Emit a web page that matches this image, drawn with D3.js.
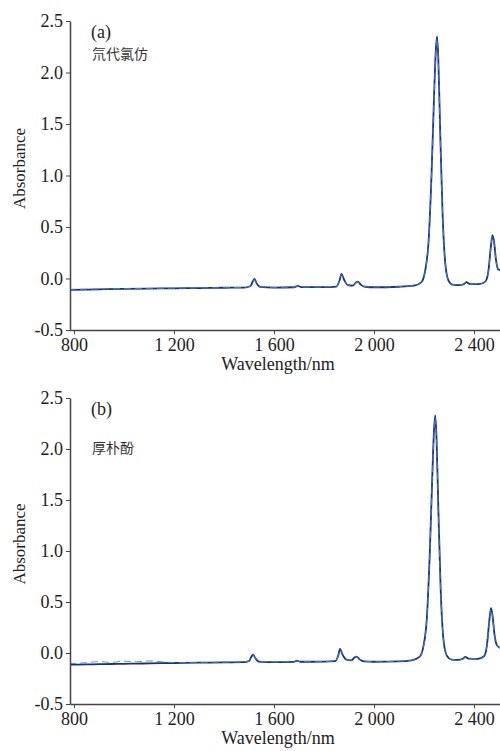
<!DOCTYPE html>
<html>
<head>
<meta charset="utf-8">
<script src="https://cdn.jsdelivr.net/npm/d3@7"></script>
<style>
  body { margin: 0; background: #fff; }
</style>
</head>
<body>
<script>
// spectra (wavelength in nm, absorbance)
var wlA = [780, 850, 900, 1000, 1100, 1200, 1300, 1400, 1480, 1505, 1515, 1522, 1530, 1545, 1600, 1680, 1695, 1710, 1800, 1850, 1862, 1870, 1880, 1895, 1915, 1928, 1935, 1948, 1965, 2000, 2100, 2160, 2190, 2205, 2218, 2230, 2240, 2247, 2252, 2257, 2264, 2274, 2285, 2298, 2315, 2340, 2360, 2370, 2382, 2420, 2445, 2458, 2467, 2474, 2480, 2488, 2496, 2504];
var absA1 = [-0.11, -0.108, -0.105, -0.1, -0.098, -0.095, -0.093, -0.09, -0.088, -0.075, -0.03, -0.005, -0.045, -0.082, -0.088, -0.085, -0.072, -0.084, -0.084, -0.078, -0.02, 0.045, -0.01, -0.065, -0.07, -0.04, -0.03, -0.062, -0.08, -0.085, -0.08, -0.07, -0.035, 0.08, 0.35, 1.0, 1.75, 2.2, 2.35, 2.15, 1.5, 0.65, 0.15, -0.02, -0.06, -0.065, -0.055, -0.035, -0.052, -0.055, -0.03, 0.08, 0.3, 0.42, 0.36, 0.18, 0.09, 0.08];
var absA2 = [-0.105, -0.104, -0.102, -0.098, -0.096, -0.094, -0.092, -0.089, -0.087, -0.074, -0.032, -0.008, -0.046, -0.08, -0.086, -0.084, -0.073, -0.083, -0.083, -0.077, -0.022, 0.04, -0.012, -0.064, -0.069, -0.042, -0.032, -0.06, -0.079, -0.083, -0.079, -0.069, -0.036, 0.075, 0.34, 0.98, 1.73, 2.18, 2.33, 2.13, 1.48, 0.64, 0.15, -0.02, -0.059, -0.064, -0.054, -0.036, -0.051, -0.054, -0.031, 0.075, 0.29, 0.41, 0.35, 0.17, 0.09, 0.08];

var wlB = [780, 850, 900, 950, 1000, 1050, 1100, 1200, 1300, 1400, 1480, 1500, 1510, 1517, 1525, 1540, 1600, 1680, 1692, 1705, 1800, 1845, 1857, 1864, 1874, 1890, 1910, 1922, 1930, 1943, 1960, 2000, 2100, 2150, 2182, 2198, 2211, 2223, 2233, 2240, 2245, 2250, 2257, 2267, 2278, 2292, 2310, 2335, 2355, 2365, 2378, 2415, 2440, 2452, 2461, 2468, 2474, 2482, 2491, 2504];
var absB1 = [-0.115, -0.112, -0.11, -0.108, -0.106, -0.104, -0.102, -0.098, -0.095, -0.092, -0.09, -0.078, -0.035, -0.015, -0.05, -0.085, -0.09, -0.087, -0.076, -0.086, -0.085, -0.08, -0.025, 0.04, -0.015, -0.066, -0.072, -0.045, -0.035, -0.064, -0.082, -0.086, -0.082, -0.072, -0.038, 0.07, 0.33, 0.97, 1.72, 2.18, 2.33, 2.12, 1.45, 0.6, 0.13, -0.03, -0.065, -0.068, -0.058, -0.038, -0.055, -0.058, -0.032, 0.08, 0.31, 0.44, 0.37, 0.18, 0.08, 0.05];
var absB2 = [-0.105, -0.095, -0.085, -0.092, -0.08, -0.086, -0.078, -0.094, -0.092, -0.09, -0.088, -0.076, -0.037, -0.018, -0.052, -0.084, -0.088, -0.086, -0.077, -0.085, -0.084, -0.079, -0.027, 0.035, -0.017, -0.065, -0.071, -0.047, -0.037, -0.063, -0.081, -0.085, -0.081, -0.071, -0.04, 0.065, 0.32, 0.95, 1.7, 2.16, 2.31, 2.1, 1.43, 0.59, 0.13, -0.03, -0.064, -0.067, -0.057, -0.039, -0.054, -0.057, -0.033, 0.075, 0.3, 0.43, 0.36, 0.17, 0.08, 0.05];

var xTicks = [800, 1200, 1600, 2000, 2400];
var yTicks = [-0.5, 0.0, 0.5, 1.0, 1.5, 2.0, 2.5];

var panels = [
  { tag: "(a)", name: "氘代氯仿", wl: wlA, s1: absA1, s2: absA2, top: 21, bottom: 330, nameY: 59 },
  { tag: "(b)", name: "厚朴酚", wl: wlB, s1: absB1, s2: absB2, top: 398, bottom: 704, nameY: 453 }
];

var serif = "'Liberation Serif', 'Times New Roman', 'DejaVu Serif', serif";
var cjk = "'Noto Sans CJK SC', sans-serif";

var svgWidth = 500;
var svgHeight = 751;
var left = 70, right = 500;

var svg = d3.select("body").append("svg")
  .attr("width", svgWidth)
  .attr("height", svgHeight);

var xScale = d3.scaleLinear().domain([784, 2504]).range([left, right]);

function fmtX(d) {
  return d >= 1000 ? String(d).replace(/(\d)(\d{3})$/, "$1 $2") : String(d);
}

panels.forEach(function (p, i) {
  var yScale = d3.scaleLinear().domain([-0.5, 2.5]).range([p.bottom, p.top]);
  var g = svg.append("g");

  // clip so the curve stops at the plot edge
  g.append("clipPath").attr("id", "clip" + i)
    .append("rect")
    .attr("x", left).attr("y", p.top - 5)
    .attr("width", right - left).attr("height", p.bottom - p.top + 5);

  var line = d3.line()
    .x(function (d) { return xScale(d[0]); })
    .y(function (d) { return yScale(d[1]); })
    .curve(d3.curveMonotoneX);

  var d1 = p.wl.map(function (w, k) { return [w, p.s1[k]]; });
  var d2 = p.wl.map(function (w, k) { return [w, p.s2[k]]; });

  g.append("path").datum(d1)
    .attr("clip-path", "url(#clip" + i + ")")
    .attr("fill", "none")
    .attr("stroke", "#1e2c86")
    .attr("stroke-width", 1.8)
    .attr("d", line);

  g.append("path").datum(d2)
    .attr("clip-path", "url(#clip" + i + ")")
    .attr("fill", "none")
    .attr("stroke", "#3f8ccc")
    .attr("stroke-width", 0.9)
    .attr("stroke-dasharray", "7,4")
    .attr("d", line);

  var xAxis = g.append("g")
    .attr("transform", "translate(0," + p.bottom + ")")
    .call(d3.axisBottom(xScale).tickValues(xTicks).tickFormat(fmtX).tickSizeInner(4).tickSizeOuter(0).tickPadding(4));
  xAxis.attr("font-family", serif);
  xAxis.select(".domain").attr("stroke", "#444").attr("stroke-width", 1.5);
  xAxis.selectAll(".tick line").attr("stroke", "#444");
  xAxis.selectAll("text").attr("font-size", 18).attr("font-family", serif).attr("fill", "#222");

  var yAxis = g.append("g")
    .attr("transform", "translate(" + left + ",0)")
    .call(d3.axisLeft(yScale).tickValues(yTicks).tickFormat(function (d) { return d.toFixed(1); }).tickSizeInner(4).tickSizeOuter(0).tickPadding(3));
  yAxis.attr("font-family", serif);
  yAxis.select(".domain").attr("stroke", "#444").attr("stroke-width", 1.5);
  yAxis.selectAll(".tick line").attr("stroke", "#444");
  yAxis.selectAll("text").attr("font-size", 18).attr("font-family", serif).attr("fill", "#222");

  g.append("text")
    .attr("transform", "translate(25," + ((p.top + p.bottom) / 2 - 7) + ") rotate(-90)")
    .attr("text-anchor", "middle")
    .attr("font-family", serif)
    .attr("font-size", 17)
    .attr("fill", "#222")
    .text("Absorbance");

  g.append("text")
    .attr("x", 278).attr("y", p.bottom + 40)
    .attr("text-anchor", "middle")
    .attr("font-family", serif)
    .attr("font-size", 18)
    .attr("fill", "#222")
    .text("Wavelength/nm");

  g.append("text")
    .attr("x", 91).attr("y", p.top + 17)
    .attr("font-family", serif)
    .attr("font-size", 18)
    .attr("fill", "#222")
    .text(p.tag);

  g.append("text")
    .attr("x", 92).attr("y", p.nameY)
    .attr("font-family", cjk)
    .attr("font-size", 14)
    .attr("fill", "#333")
    .text(p.name);
});
</script>
</body>
</html>
